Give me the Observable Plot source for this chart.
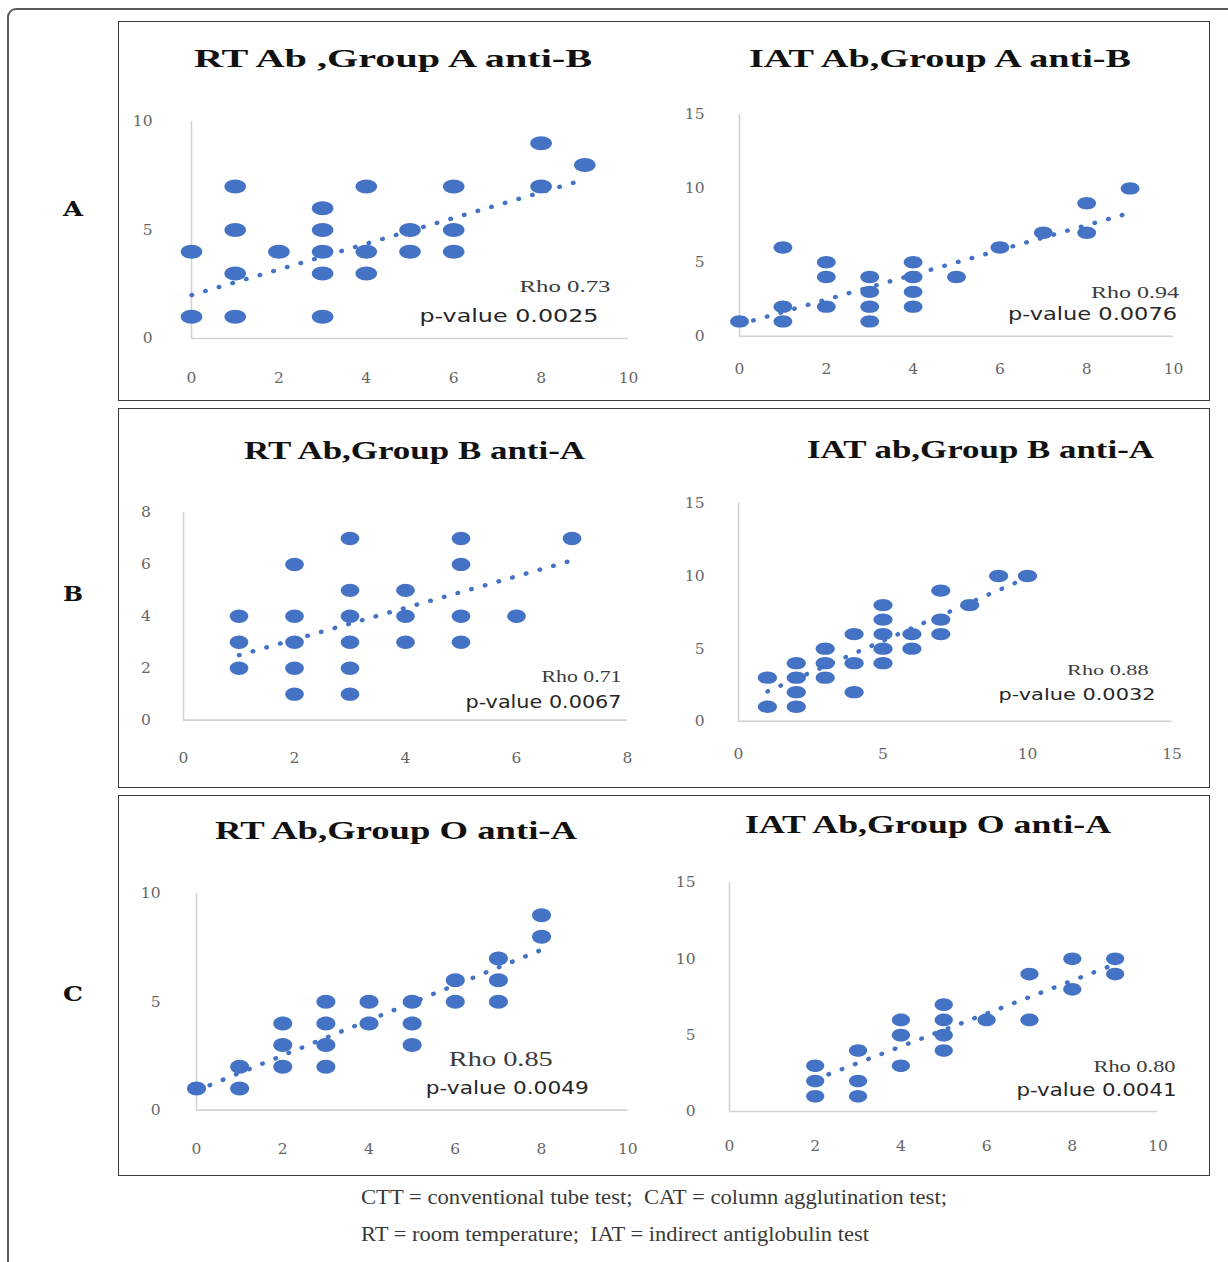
<!DOCTYPE html>
<html><head><meta charset="utf-8">
<script src="https://cdn.jsdelivr.net/npm/d3@7"></script>
<script src="https://cdn.jsdelivr.net/npm/@observablehq/plot@0.6"></script>
<style>
html,body{margin:0;padding:0;background:#fff;}
#page{position:relative;width:1228px;height:1262px;overflow:hidden;background:#fff;}
.outer{position:absolute;left:7px;top:8px;width:1240px;height:1290px;border:2px solid #5a5a5a;border-radius:9px;box-sizing:border-box;}
.row{position:absolute;left:118px;width:1092px;border:1.5px solid #3a3a3a;box-sizing:border-box;}
.fit{position:absolute;white-space:pre;line-height:1;}
</style></head><body><div id="page"></div>
<script>
// ---------- data ----------
const titles = ["RT Ab ,Group A anti-B","IAT Ab,Group A anti-B","RT Ab,Group B anti-A","IAT ab,Group B anti-A","RT Ab,Group O anti-A","IAT Ab,Group O anti-A"];
const rhoLabels = ["Rho 0.73","Rho 0.94","Rho 0.71","Rho 0.88","Rho 0.85","Rho 0.80"];
const pLabels = ["p-value 0.0025","p-value 0.0076","p-value 0.0067","p-value 0.0032","p-value 0.0049","p-value 0.0041"];
const rowLabels = ["A","B","C"];
const captionLines = ["CTT = conventional tube test;  CAT = column agglutination test;","RT = room temperature;  IAT = indirect antiglobulin test"];

const ticks0to10 = [0,2,4,6,8,10];
const ticks0to8 = [0,2,4,6,8];
const ticks0to15 = [0,5,10,15];
const ticksY10 = [0,5,10];

const A1_x = [0,0,1,1,1,1,2,3,3,3,3,3,4,4,4,5,5,6,6,6,8,8,9];
const A1_y = [4,1,7,5,3,1,4,6,5,4,3,1,7,4,3,5,4,7,5,4,9,7,8];
const A1_trend_x = [0,9];
const A1_trend_y = [2.0,7.33];

const A2_x = [0,1,1,1,2,2,2,3,3,3,3,4,4,4,4,5,6,7,8,8,9];
const A2_y = [1,6,2,1,5,4,2,4,3,2,1,5,4,3,2,4,6,7,9,7,10];
const A2_trend_x = [0,9];
const A2_trend_y = [0.8,8.35];

const B1_x = [1,1,1,2,2,2,2,2,3,3,3,3,3,3,4,4,4,5,5,5,5,6,7];
const B1_y = [4,3,2,6,4,3,2,1,7,5,4,3,2,1,5,4,3,7,6,4,3,4,7];
const B1_trend_x = [1,7];
const B1_trend_y = [2.5,6.15];

const B2_x = [1,1,2,2,2,2,3,3,3,4,4,4,5,5,5,5,5,6,6,7,7,7,8,9,10];
const B2_y = [3,1,4,3,2,1,5,4,3,6,4,2,8,7,6,5,4,6,5,9,7,6,8,10,10];
const B2_trend_x = [1,10];
const B2_trend_y = [2.05,9.9];

const C1_x = [0,1,1,2,2,2,3,3,3,3,4,4,5,5,5,6,6,7,7,7,8,8];
const C1_y = [1,2,1,4,3,2,5,4,3,2,5,4,5,4,3,6,5,7,6,5,9,8];
const C1_trend_x = [0,8];
const C1_trend_y = [0.9,7.4];

const C2_x = [2,2,2,3,3,3,4,4,4,5,5,5,5,6,7,7,8,8,9,9];
const C2_y = [3,2,1,4,2,1,6,5,3,7,6,5,4,6,9,6,10,8,10,9];
const C2_trend_x = [2,9];
const C2_trend_y = [2.1,9.65];

// ---------- layout / style ----------
const BLUE = "#4472C4";
const page = document.getElementById("page");

const outer = document.createElement("div"); outer.className = "outer"; page.appendChild(outer);
[[21,380],[408,380],[795,381]].forEach(([t,h])=>{
  const r = document.createElement("div"); r.className="row"; r.style.top=t+"px"; r.style.height=h+"px"; page.appendChild(r);
});

function fitText(txt, x0, x1, cy, css){
  const el = document.createElement("div");
  el.className = "fit"; el.textContent = txt;
  Object.assign(el.style, css);
  el.style.left = x0+"px"; el.style.top = "0px";
  page.appendChild(el);
  const b = el.getBoundingClientRect();
  const s = (x1-x0)/b.width;
  el.style.top = (cy - b.height/2)+"px";
  el.style.transformOrigin = "left center";
  el.style.transform = `scaleX(${s})`;
  return el;
}

const panels = [
  {xs:A1_x, ys:A1_y, tx:A1_trend_x, ty:A1_trend_y, xd:[0,10], yd:[0,10], xt:ticks0to10, yt:ticksY10, i:0,
   g:{fx0:191, fx1:628, fy0:338, fy1:121, ypad:39, xoff:38.7, rx:10.8, ry:7, t:[194,592,59], rho:[-18,-52,91,17.5], pv:[-30,-22,179,18]}},
  {xs:A2_x, ys:A2_y, tx:A2_trend_x, ty:A2_trend_y, xd:[0,10], yd:[0,15], xt:ticks0to10, yt:ticks0to15, i:1,
   g:{fx0:738.5, fx1:1172.5, fy0:335.7, fy1:114, ypad:35, xoff:32.6, rx:9.4, ry:6.2, t:[749,1131,59], rho:[5.5,-43.7,88,16.5], pv:[3.5,-22,169,17.5]}},
  {xs:B1_x, ys:B1_y, tx:B1_trend_x, ty:B1_trend_y, xd:[0,8], yd:[0,8], xt:ticks0to8, yt:ticks0to8, i:2,
   g:{fx0:182.7, fx1:626.7, fy0:719.3, fy1:511.7, ypad:32.7, xoff:37.4, rx:9.3, ry:6.7, t:[244,585,451], rho:[-6,-43.8,80,16.5], pv:[-6,-18.3,156,18]}},
  {xs:B2_x, ys:B2_y, tx:B2_trend_x, ty:B2_trend_y, xd:[0,15], yd:[0,15], xt:ticks0to15, yt:ticks0to15, i:3,
   g:{fx0:738, fx1:1171.5, fy0:721, fy1:503.3, ypad:34, xoff:32.3, rx:9.6, ry:6.2, t:[807,1154,450], rho:[-23.5,-50.7,81.4,15], pv:[-16.5,-26,157,16.5]}},
  {xs:C1_x, ys:C1_y, tx:C1_trend_x, ty:C1_trend_y, xd:[0,10], yd:[0,10], xt:ticks0to10, yt:ticksY10, i:4,
   g:{fx0:196, fx1:627.3, fy0:1109.3, fy1:892.7, ypad:36, xoff:39, rx:9.5, ry:7, t:[215,577,831], rho:[-75,-51,104,20], pv:[-39,-22,163,18]}},
  {xs:C2_x, ys:C2_y, tx:C2_trend_x, ty:C2_trend_y, xd:[0,10], yd:[0,15], xt:ticks0to10, yt:ticks0to15, i:5,
   g:{fx0:729, fx1:1157.5, fy0:1110.7, fy1:881.7, ypad:34, xoff:34.3, rx:9.1, ry:6.3, t:[745,1111,825], rho:[17.5,-45.2,82,16.5], pv:[18.5,-21.2,160,17]}}
];

function ellipseSymbol(rx, ry){
  const k = 0.5523;
  return {draw(ctx){
    ctx.moveTo(rx,0);
    ctx.bezierCurveTo(rx,k*ry,k*rx,ry,0,ry);
    ctx.bezierCurveTo(-k*rx,ry,-rx,k*ry,-rx,0);
    ctx.bezierCurveTo(-rx,-k*ry,-k*rx,-ry,0,-ry);
    ctx.bezierCurveTo(k*rx,-ry,rx,-k*ry,rx,0);
    ctx.closePath();
  }};
}

const ML=80, MR=30, MT=20, MB=50;
panels.forEach(p=>{
  const g = p.g;
  const pts = p.xs.map((x,j)=>({x, y:p.ys[j]}));
  const trend = p.tx.map((x,j)=>({x, y:p.ty[j]}));
  const W = (g.fx1-g.fx0)+ML+MR, H = (g.fy0-g.fy1)+MT+MB;
  const chart = Plot.plot({
    width: W, height: H, marginLeft: ML, marginRight: MR, marginTop: MT, marginBottom: MB,
    x: {domain: p.xd}, y: {domain: p.yd},
    style: {background:"transparent", overflow:"visible", fontFamily:"DejaVu Serif", fontSize:"15.5px", color:"#666"},
    marks: [
      Plot.ruleY([p.yd[0]], {stroke:"#d2d2d2", strokeWidth:1.6}),
      Plot.ruleX([p.xd[0]], {stroke:"#d2d2d2", strokeWidth:1.6}),
      Plot.axisX(p.xt, {tickSize:0, tickPadding:g.xoff-5.7, label:null}),
      Plot.axisY(p.yt, {tickSize:0, tickPadding:g.ypad, label:null}),
      Plot.dot(pts, {x:"x", y:"y", symbol: ellipseSymbol(g.rx, g.ry), fill:BLUE, stroke:"none"}),
      Plot.line(trend, {x:"x", y:"y", stroke:BLUE, strokeWidth:4.4, strokeDasharray:"0.6,13.6", strokeLinecap:"round"}),
      Plot.text([rhoLabels[p.i]], {frameAnchor:"bottom-right", text:d=>d, textAnchor:"end", lineAnchor:"middle",
        dx:g.rho[0], dy:g.rho[1], fontFamily:"Liberation Serif", fontSize:g.rho[3], fill:"#3c3c3c"}),
      Plot.text([pLabels[p.i]], {frameAnchor:"bottom-right", text:d=>d, textAnchor:"end", lineAnchor:"middle",
        dx:g.pv[0], dy:g.pv[1], fontFamily:"DejaVu Sans", fontSize:g.pv[3], fill:"#262626"})
    ]
  });
  chart.style.position = "absolute";
  chart.style.left = (g.fx0-ML)+"px";
  chart.style.top = (g.fy1-MT)+"px";
  page.appendChild(chart);
  chart.querySelectorAll("text").forEach(t=>{
    const s = t.textContent.trim();
    let w = null;
    if (s === rhoLabels[p.i]) w = g.rho[2];
    else if (s === pLabels[p.i]) w = g.pv[2];
    if (w != null) {
      const target = t.querySelector("tspan") || t;
      target.setAttribute("textLength", w);
      target.setAttribute("lengthAdjust", "spacingAndGlyphs");
    }
  });
  fitText(titles[p.i], g.t[0], g.t[1], g.t[2], {fontFamily:"Liberation Serif", fontWeight:"bold", fontSize:"26px", color:"#111"});
});

// row labels
[[208],[593],[993]].forEach(([cy],k)=>{
  fitText(rowLabels[k], 63, 83, cy, {fontFamily:"DejaVu Serif", fontWeight:"bold", fontSize:"21px", color:"#111"});
});

// caption
fitText(captionLines[0], 361, 947, 1197, {fontFamily:"Liberation Serif", fontSize:"20px", color:"#3a3a3a"});
fitText(captionLines[1], 361, 869, 1234, {fontFamily:"Liberation Serif", fontSize:"20px", color:"#3a3a3a"});
</script></body></html>
